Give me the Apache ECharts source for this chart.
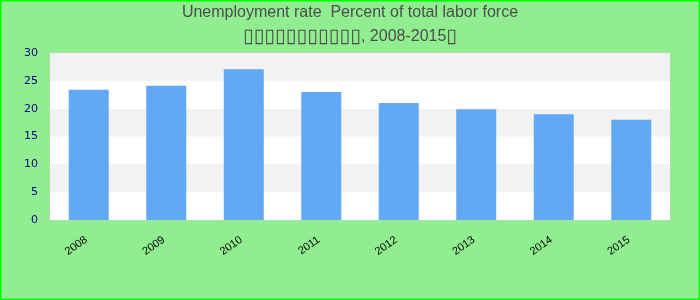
<!DOCTYPE html>
<html>
<head>
<meta charset="utf-8">
<script src="https://cdn.jsdelivr.net/npm/echarts@6/dist/echarts.min.js"></script>
<style>
html,body{margin:0;padding:0;background:#90ee90;}
#c{width:700px;height:300px;}
</style>
</head>
<body>
<div id="c"></div>
<script>
const categories = ['2008','2009','2010','2011','2012','2013','2014','2015'];
const values = [23.4, 24.1, 27.1, 23.0, 21.0, 19.9, 19.0, 18.0];
const titleLine1 = 'Unemployment rate  Percent of total labor force';
const titleBoxes = '\u25AF\u25AF\u25AF\u25AF\u25AF\u25AF\u25AF\u25AF\u25AF\u25AF\u25AF';
const titleLine2 = ', 2008-2015';
const titleEnd = '\u25AF';

const chart = echarts.init(document.getElementById('c'), null, {renderer:'canvas'});
chart.setOption({
  backgroundColor: '#90ee90',
  animation: false,
  title: {
    text: '{a|' + titleLine1 + '}\n{b|' + titleBoxes + '}{a|' + titleLine2 + '}{b|' + titleEnd + '}',
    left: 'center',
    top: 0,
    padding: [1, 5, 5, 5],
    textStyle: {
      fontWeight: 'normal',
      rich: {
        a: {color:'#4d4d4d', fontSize:16, fontWeight:'normal', fontFamily:'Liberation Sans, Arial, sans-serif', lineHeight:24},
        b: {color:'#4d4d4d', fontSize:19.5, fontWeight:'normal', fontFamily:'DejaVu Sans, sans-serif', lineHeight:24}
      }
    }
  },
  grid: {left:50, right:30, top:53, bottom:80, show:true, backgroundColor:'#ffffff', borderColor:'#cccccc', borderWidth:1},
  xAxis: {
    type:'category', data: categories,
    axisLine:{show:false}, axisTick:{show:false},
    axisLabel:{rotate:35, color:'#000', fontSize:11, fontFamily:'Liberation Sans, Arial, sans-serif', margin:17, padding:[0,3,0,0]}
  },
  yAxis: {
    type:'value', min:0, max:30, interval:5,
    axisLine:{show:false}, axisTick:{show:false},
    splitLine:{show:false},
    splitArea:{show:true, areaStyle:{color:['#ffffff','#f2f2f2']}},
    axisLabel:{color:'#00008b', fontSize:11, fontFamily:'DejaVu Sans, sans-serif', margin:12}
  },
  series: [{
    type:'bar', data: values, barWidth:40,
    itemStyle:{color:'#62a9f5'}
  }],
  graphic: [{
    type:'rect', shape:{x:0.75, y:0.75, width:698.5, height:298.5},
    style:{fill:'none', stroke:'#00ff00', lineWidth:1.5}, z:100
  }]
});
</script>
</body>
</html>
